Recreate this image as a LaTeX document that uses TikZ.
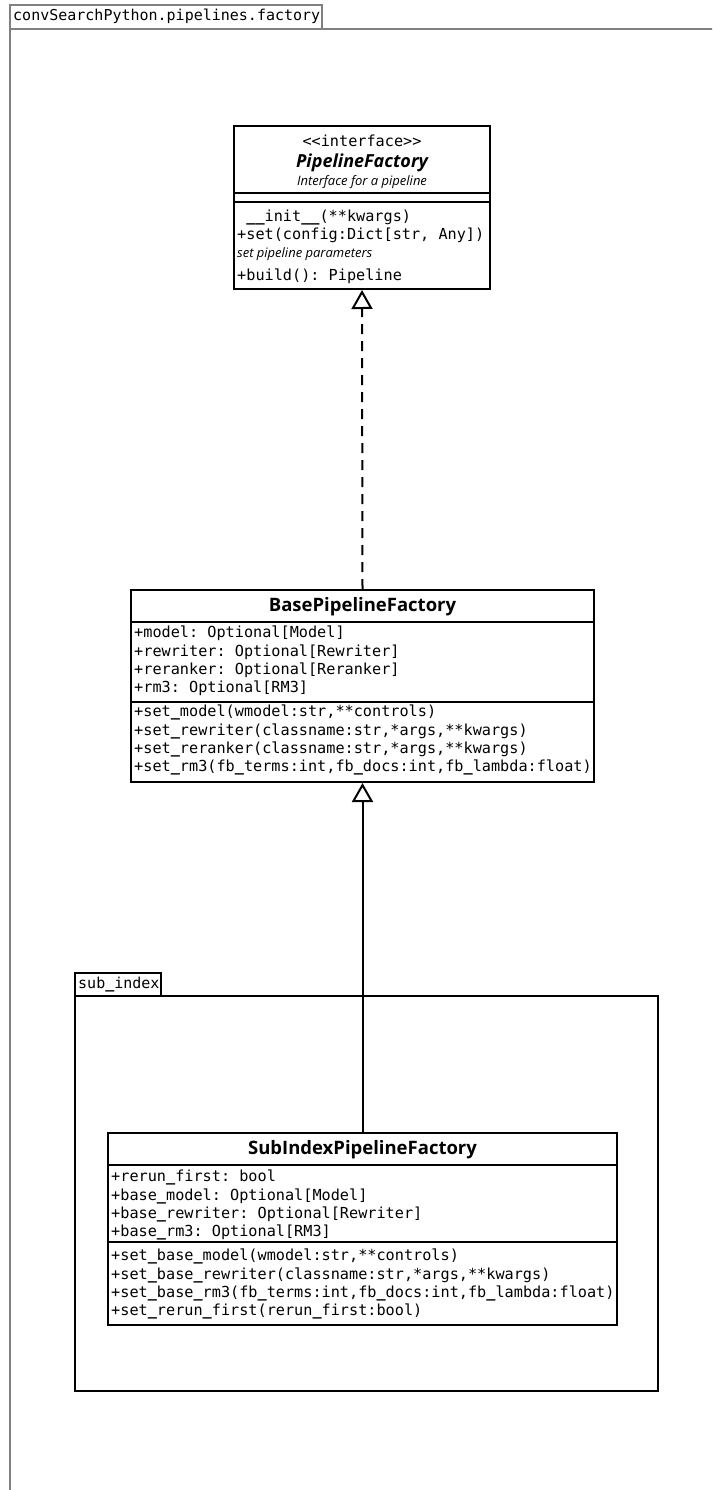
\documentclass[tikz,border=0pt]{standalone}
\usepackage{fontspec}
\setmainfont{Open Sans}
\setmonofont{DejaVu Sans Mono}
\usetikzlibrary{arrows.meta, calc, positioning}

\definecolor{pkggray}{HTML}{808080}
\newcommand{\us}{{\bfseries\_}}

\begin{document}
\begin{tikzpicture}[x=1pt, y=-1pt]
    \def\lw{2pt}
    \def\rowH{18.3}

    \tikzstyle{classbox} = [draw, line width=\lw, inner sep=0pt]
    \tikzstyle{divider} = [line width=\lw]
    \tikzstyle{member} = [anchor=west, inner sep=0pt, text height=11pt, text depth=3.5pt, font=\fontsize{15.2}{18}\ttfamily]
    \tikzstyle{tabtext} = [member, font=\fontsize{15}{18}\ttfamily]
    \tikzstyle{note} = [inner sep=0pt, font=\fontsize{13}{15}\selectfont\itshape]
    \tikzstyle{classname} = [inner sep=0pt, font=\fontsize{18.5}{22}\selectfont\bfseries]
    \tikzstyle{realize} = [line width=\lw, dash pattern=on 10pt off 7pt, -{Triangle[open, length=19pt, width=21pt]}]
    \tikzstyle{inherit} = [line width=\lw, -{Triangle[open, length=19pt, width=21pt]}]

    \clip (0,0) rectangle (712,1490);

    % outer package
    \draw [line width=\lw, draw=pkggray] (10,29) rectangle (740,1520);
    \draw [line width=\lw, draw=pkggray] (10,5) rectangle (322,29);
    \node (pkg-tab) [tabtext] at (13,17) {convSearchPython.pipelines.factory};

    % inner package
    \draw [line width=\lw] (75,996) rectangle (658,1391);
    \draw [line width=\lw] (75,973) rectangle (161,996);
    \node (sub-tab) [tabtext] at (78,984.5) {sub\us index};

    % interface
    \node (iface) [classbox, minimum width=256pt, minimum height=163pt] at (362,207.5) {};
    \draw [divider] ($(iface.north west)+(0,68)$) -- ($(iface.north east)+(0,68)$);
    \draw [divider] ($(iface.north west)+(0,77)$) -- ($(iface.north east)+(0,77)$);
    \node (iface-st) [member, anchor=center] at (362,143) {<<interface>>};
    \node (iface-name) [classname, font=\fontsize{18}{22}\selectfont\bfseries\itshape] at (362,163) {PipelineFactory};
    \node (iface-doc) [note] at (362,182) {Interface for a pipeline};
    \node (iface-m0) [member] at (237,218) {\ \us\us init\us\us(**kwargs)};
    \node (iface-m1) [member] at (237,236) {+set(config:Dict[str, Any])};
    \node (iface-m1-doc) [note, anchor=west] at (237,254) {set pipeline parameters};
    \node (iface-m2) [member] at (237,277) {+build(): Pipeline};

    % base factory
    \node (base) [classbox, minimum width=463pt, minimum height=192pt] at (362.5,686) {};
    \draw [divider] ($(base.north west)+(0,33)$) -- ($(base.north east)+(0,33)$);
    \draw [divider] ($(base.north west)+(0,113)$) -- ($(base.north east)+(0,113)$);
    \node (base-name) [classname] at (362.5,607) {BasePipelineFactory};
    \foreach \txt [count=\i from 0] in {{+model: Optional[Model]}, {+rewriter: Optional[Rewriter]},
            {+reranker: Optional[Reranker]}, {+rm3: Optional[RM3]}}
        \node (base-attr-\i) [member] at (134, 634 + \i*\rowH) {\txt};
    \foreach \txt [count=\i from 0] in {{+set\us model(wmodel:str,**controls)},
            {+set\us rewriter(classname:str,*args,**kwargs)},
            {+set\us reranker(classname:str,*args,**kwargs)},
            {+set\us rm3(fb\us terms:int,fb\us docs:int,fb\us lambda:float)}}
        \node (base-op-\i) [member] at (134, 713 + \i*\rowH) {\txt};

    % sub index factory
    \node (sub) [classbox, minimum width=509pt, minimum height=192pt] at (362.5,1229) {};
    \draw [divider] ($(sub.north west)+(0,33)$) -- ($(sub.north east)+(0,33)$);
    \draw [divider] ($(sub.north west)+(0,110)$) -- ($(sub.north east)+(0,110)$);
    \node (sub-name) [classname] at (362.5,1150) {SubIndexPipelineFactory};
    \foreach \txt [count=\i from 0] in {{+rerun\us first: bool}, {+base\us model: Optional[Model]},
            {+base\us rewriter: Optional[Rewriter]}, {+base\us rm3: Optional[RM3]}}
        \node (sub-attr-\i) [member] at (111, 1178 + \i*\rowH) {\txt};
    \foreach \txt [count=\i from 0] in {{+set\us base\us model(wmodel:str,**controls)},
            {+set\us base\us rewriter(classname:str,*args,**kwargs)},
            {+set\us base\us rm3(fb\us terms:int,fb\us docs:int,fb\us lambda:float)},
            {+set\us rerun\us first(rerun\us first:bool)}}
        \node (sub-op-\i) [member] at (111, 1257 + \i*\rowH) {\txt};

    % relations
    \draw [realize] (base.north) -- (iface.south);
    \draw [inherit] (sub.north) -- (base.south);
\end{tikzpicture}
\end{document}
